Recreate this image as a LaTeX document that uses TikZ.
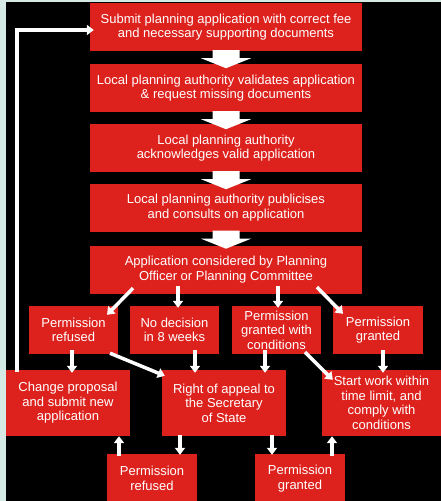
\documentclass[tikz,border=0pt]{standalone}
\usepackage{fontspec}
\setmainfont{Liberation Sans}
\usetikzlibrary{arrows.meta}
\definecolor{boxred}{RGB}{221,34,30}
\definecolor{mint}{RGB}{214,234,229}
\tikzset{
  box/.style={fill=boxred, text=white, align=center, inner sep=0pt,
    font=\fontsize{13}{14.5}\selectfont},
  arr/.style={draw=white, line width=3.5pt, -{Triangle[width=10pt,length=7pt]}},
}
\newcommand{\blockarrow}[1]{%
  \fill[white] (#1.south) ++(-13.5,-1) -- ++(27,0) -- ++(0,8) -- ++(11.5,0)
    -- ++(-25,10) -- ++(-25,-10) -- ++(11.5,0) -- cycle;}
\begin{document}
\begin{tikzpicture}[x=1pt,y=-1pt]
\useasboundingbox (0,0) rectangle (441,501);
\fill[mint] (0,0) rectangle (441,501);
\fill[black] (6,2) rectangle (441,501);

\node[box, minimum width=272pt, minimum height=48pt] (b1) at (226,27)
  {Submit planning application with correct fee\\and necessary supporting documents};
\node[box, minimum width=272pt, minimum height=48pt] (b2) at (226,88)
  {Local planning authority validates application\\\& request missing documents};
\node[box, minimum width=272pt, minimum height=48pt] (b3) at (226,148)
  {Local planning authority\\acknowledges valid application};
\node[box, minimum width=272pt, minimum height=48pt] (b4) at (226,207.5)
  {Local planning authority publicises\\and consults on application};
\node[box, minimum width=272pt, minimum height=48pt] (b5) at (226,269.5)
  {Application considered by Planning\\Officer or Planning Committee};

\node[box, minimum width=89pt, minimum height=48pt] (b6a) at (73.5,330)
  {Permission\\refused};
\node[box, minimum width=89pt, minimum height=48pt] (b6b) at (174.5,330)
  {No decision\\in 8 weeks};
\node[box, minimum width=89pt, minimum height=48pt] (b6c) at (276.5,330)
  {Permission\\granted with\\conditions};
\node[box, minimum width=90pt, minimum height=48pt] (b6d) at (378,330)
  {Permission\\granted};

\node[box, minimum width=124pt, minimum height=66pt] (b7a) at (68,403)
  {Change proposal\\and submit new\\application};
\node[box, minimum width=124pt, minimum height=66pt] (b7b) at (224,403)
  {Right of appeal to\\the Secretary\\of State};
\node[box, minimum width=119pt, minimum height=66pt] (b7c) at (381.5,403)
  {Start work within\\time limit, and\\comply with\\conditions};

\node[box, minimum width=90pt, minimum height=49pt] (b8a) at (152,478.5)
  {Permission\\refused};
\node[box, minimum width=90pt, minimum height=49pt] (b8b) at (300,478.5)
  {Permission\\granted};

\blockarrow{b1}
\blockarrow{b2}
\blockarrow{b3}
\blockarrow{b4}

\draw[arr] ([shift={(-93,-5.5)}]b5.south) -- ([shift={(33.5,9)}]b6a.north);
\draw[arr] ([shift={(-48,-7.5)}]b5.south) -- ([shift={(3.5,2)}]b6b.north);
\draw[arr] ([shift={(52,-7.5)}]b5.south) -- ([shift={(1.5,2)}]b6c.north);
\draw[arr] ([shift={(91,-6.5)}]b5.south) -- ([shift={(-35,8)}]b6d.north);

\draw[arr] ([shift={(-1.5,-4)}]b6a.south) -- ([shift={(4,3)}]b7a.north);
\draw[arr] ([shift={(36.5,-1)}]b6a.south) -- ([shift={(3,6)}]b7b.north west);
\draw[arr] ([shift={(20.5,-4)}]b6b.south) -- ([shift={(-29,3)}]b7b.north);
\draw[arr] ([shift={(-11.5,-4)}]b6c.south) -- ([shift={(41,3)}]b7b.north);
\draw[arr] ([shift={(28.5,-2)}]b6c.south) -- ([shift={(11,10)}]b7c.north west);
\draw[arr] ([shift={(5,-4)}]b6d.south) -- ([shift={(1.5,3)}]b7c.north);

\draw[arr] ([shift={(-33,2)}]b8a.north) -- ([shift={(51,0)}]b7a.south);
\draw[arr] ([shift={(-44,-1)}]b7b.south) -- ([shift={(28,1)}]b8a.north);
\draw[arr] ([shift={(48,-1)}]b7b.south) -- ([shift={(-28,1)}]b8b.north);
\draw[arr] ([shift={(32,2)}]b8b.north) -- ([shift={(-49.5,0)}]b7c.south);

\draw[arr] ([shift={(-51,2)}]b7a.north) |- ([shift={(4,3)}]b1.west);
\end{tikzpicture}
\end{document}
